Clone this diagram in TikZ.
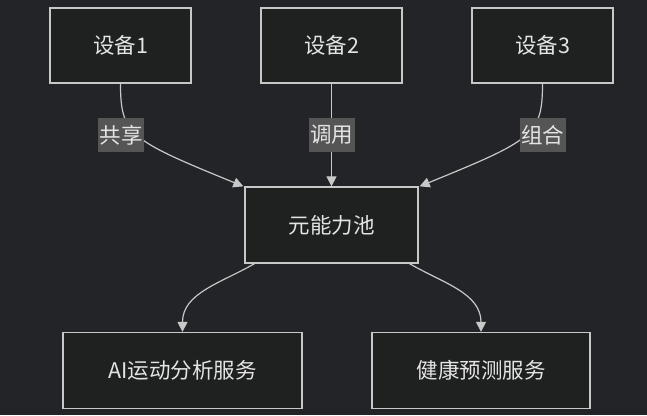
\documentclass[tikz,border=0pt]{standalone}
\usepackage{fontspec}
\setmainfont{Noto Sans CJK SC}
\usetikzlibrary{arrows.meta}
\definecolor{bgdark}{RGB}{35,36,40}
\definecolor{boxfill}{RGB}{31,32,32}
\definecolor{boxline}{RGB}{200,200,200}
\definecolor{txtgray}{RGB}{228,228,228}
\definecolor{tagfill}{RGB}{85,85,85}
\begin{document}
\begin{tikzpicture}[
    x=1pt, y=-1pt,
    every node/.append style={font=\fontsize{21.5}{25}\selectfont, text=txtgray},
    % 模块样式
    module/.style={draw=boxline, line width=1.3pt, fill=boxfill, minimum height=75pt, align=center, inner sep=0pt},
    tag/.style={fill=tagfill, inner xsep=1.5pt, inner ysep=0pt, minimum height=34pt},
    arrow/.style={-{Triangle[length=10pt,width=10pt]}, draw=boxline, line width=1.2pt},
]

% ========== 背景 ==========
\fill[bgdark] (0,0) rectangle (647,415);
\useasboundingbox (0,0) rectangle (647,415);

% ========== 设备 ==========
\node[module, minimum width=141pt] (dev1) at (120.5, 45.5) {设备1};
\node[module, minimum width=141pt] (dev2) at (331.5, 45.5) {设备2};
\node[module, minimum width=141pt] (dev3) at (542.5, 45.5) {设备3};

% ========== 元能力池 ==========
\node[module, minimum width=173pt, minimum height=76pt] (pool) at (331.5, 225) {元能力池};

% ========== 服务 ==========
\node[module, minimum width=239pt, minimum height=76pt] (aisvc) at (182.5, 370.5) {AI运动分析服务};
\node[module, minimum width=218pt, minimum height=76pt] (healthsvc) at (481, 370.5) {健康预测服务};

% 设备到能力池
\draw[arrow] (dev1.south) .. controls (120.5,135) and (130,140) .. ([xshift=-1pt]pool.north west);
\draw[arrow] (dev2.south) -- (pool.north);
\draw[arrow] (dev3.south) .. controls (542.5,135) and (533,140) .. ([xshift=1pt]pool.north east);

% 连线标签
\node[tag] (lblshare) at (121, 135) {共享};
\node[tag] (lblcall) at (331.5, 135) {调用};
\node[tag] (lblcombo) at (542.5, 135) {组合};

% 能力池到服务
\draw[arrow] ([xshift=-77pt]pool.south) to[out=-150, in=90] (aisvc.north);
\draw[arrow] ([xshift=78pt]pool.south) to[out=-30, in=90] (healthsvc.north);

\end{tikzpicture}
\end{document}
